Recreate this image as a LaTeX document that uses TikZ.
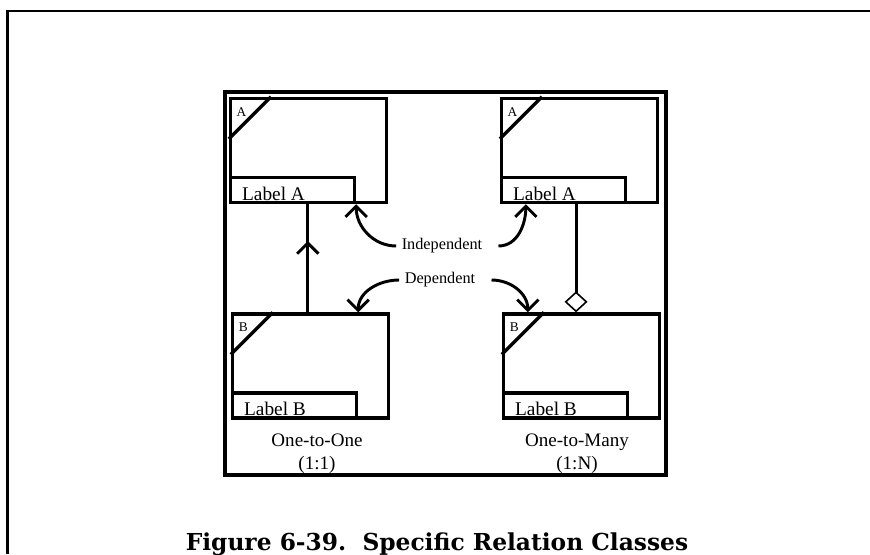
\documentclass[tikz,border=0pt]{standalone}
\usepackage{fontspec}
\setmainfont{Liberation Serif}
\newfontfamily\capfont{DejaVu Serif}
\usetikzlibrary{arrows.meta,decorations.markings}

\tikzset{
  entbox/.style={draw, line width=2.5pt, minimum width=117pt, minimum height=78pt, inner sep=0pt},
  subbox/.style={draw, line width=2.5pt, minimum width=93pt, minimum height=18.75pt, inner sep=0pt, anchor=south west},
  lbltext/.style={anchor=base west, inner sep=0pt, font=\fontsize{14.5}{16}\selectfont},
  cornertext/.style={inner sep=0pt, font=\fontsize{10}{11}\selectfont},
  midtext/.style={inner xsep=4pt, font=\fontsize{12.2}{14}\selectfont},
  captext/.style={align=center, font=\fontsize{14.3}{17.25}\selectfont},
  conn/.style={line width=2.2pt}
}

\begin{document}
\begin{tikzpicture}[x=0.75pt,y=-0.75pt,>={Straight Barb[length=8pt,width=16pt]}]
\useasboundingbox (0,0) rectangle (870,554);
\draw[line width=1.6pt] (870,11) -- (7.5,11) -- (7.5,554);
\draw[line width=3.6pt] (225,92) rectangle (666,475);

\node[entbox] (boxA1) at (308.5,150.5) {};
\node[entbox] (boxA2) at (579.5,150.5) {};
\node[entbox] (boxB1) at (310.5,366) {};
\node[entbox] (boxB2) at (581.5,366) {};

\foreach \b/\l in {A1/A, A2/A, B1/B, B2/B} {
  \draw[line width=2.5pt] (box\b.north west) ++(42,0) -- ++(-42,42);
  \node[cornertext] (corner\b) at ([shift={(12.5,15)}]box\b.north west) {\l};
  \node[subbox] (sub\b) at (box\b.south west) {};
  \node[lbltext] (lab\b) at ([shift={(13,-4)}]sub\b.south west) {Label \l};
}

\node[midtext] (indep) at (442,246) {Independent};
\node[midtext] (dep) at (440,280) {Dependent};
\node[captext] (cap11) at (317,454) {One-to-One\\(1:1)};
\node[captext] (cap1n) at (577,454) {One-to-Many\\(1:N)};

\draw[conn, postaction={decorate}, decoration={markings, mark=at position 0.66 with {\arrow{>}}}]
  ([xshift=-2pt]boxB1.north) -- ([xshift=-2pt]boxB1.north |- boxA1.south);
\draw[conn, -{Diamond[open, length=15.75pt, width=17.25pt, line width=1.2pt]}]
  ([xshift=-2.6pt]boxA2.south) -- ([xshift=-2.6pt]boxA2.south |- boxB2.north);

\draw[conn,->] (indep.west) to[out=180,in=-90] (subA1.south east);
\draw[conn,->] ([xshift=8pt]indep.east) to[out=0,in=-90] ([xshift=19.5pt]boxA2.south west);
\draw[conn,->] (dep.west) to[out=180,in=90] (subB1.south east |- boxB1.north);
\draw[conn,->] ([xshift=8pt]dep.east) to[out=0,in=90] ([xshift=19.5pt]boxB2.north west);

\node[anchor=base, font=\capfont\bfseries\fontsize{17.5}{20}\selectfont] (figcap) at (437,550) {Figure 6-39.\ \ Specific Relation Classes};
\end{tikzpicture}
\end{document}
